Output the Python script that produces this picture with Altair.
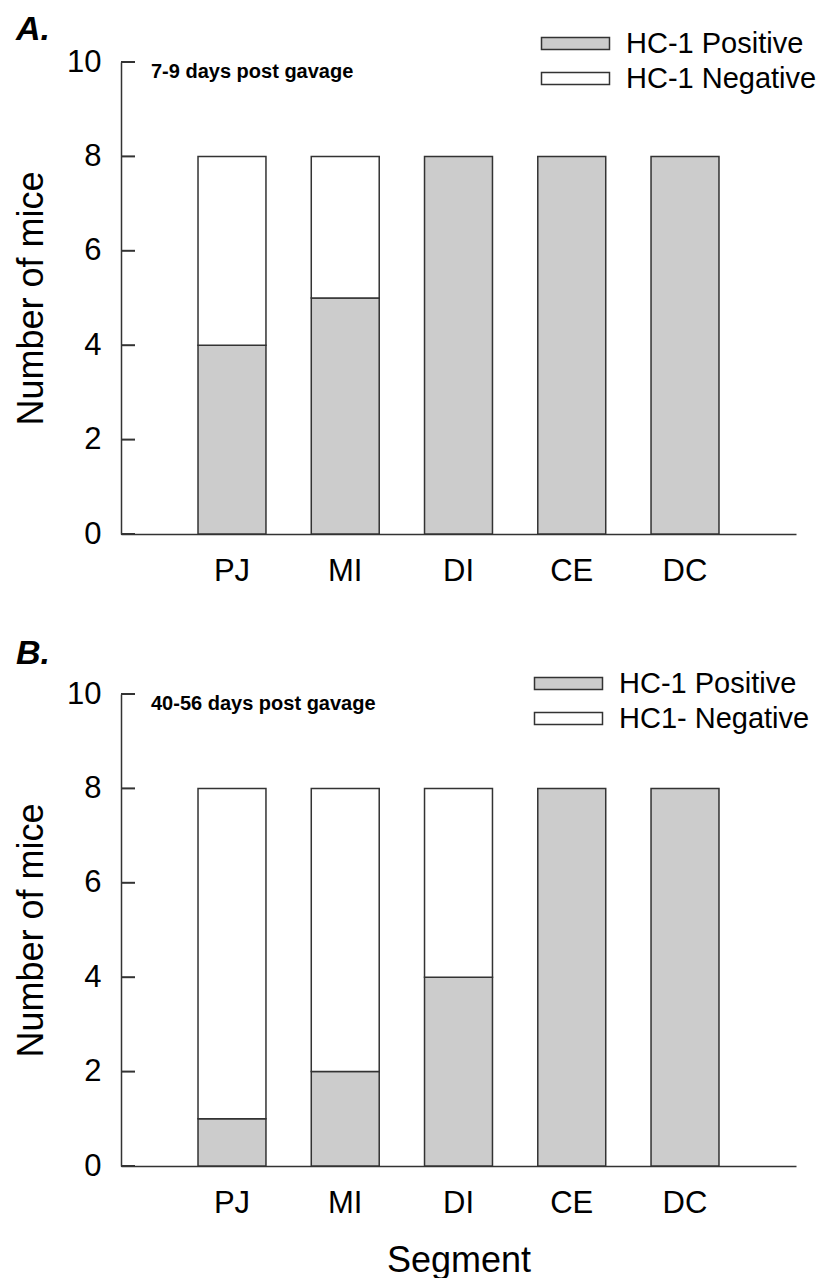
import altair as alt
import pandas as pd

segments = ["PJ", "MI", "DI", "CE", "DC"]
pos_a = [4, 5, 8, 8, 8]
neg_a = [4, 3, 0, 0, 0]
pos_b = [1, 2, 4, 8, 8]
neg_b = [7, 6, 4, 0, 0]
labels_a = ["HC-1 Positive", "HC-1 Negative"]
labels_b = ["HC-1 Positive", "HC1- Negative"]
fills = ["#cccccc", "#ffffff"]
y_ticks = [0, 2, 4, 6, 8, 10]
panel_tags = ["A.", "B."]
subtitles = ["7-9 days post gavage", "40-56 days post gavage"]
y_title = "Number of mice"
x_title = "Segment"

FONT = "Liberation Sans"
LINE = "#333333"
SYMBOL = "M-1,-1L10.333,-1L10.333,1L-1,1Z"
W, H = 675, 472


def panel(pos, neg, labels, tag, subtitle, show_x_title, lx, ly, tag_y):
    rows = []
    for s, p, n in zip(segments, pos, neg):
        if p:
            rows.append({"segment": s, "count": p, "status": labels[0], "rank": 0})
        if n:
            rows.append({"segment": s, "count": n, "status": labels[1], "rank": 1})
    df = pd.DataFrame(rows)
    yscale = alt.Scale(domain=[0, 10], nice=False)
    yaxis = alt.Axis(values=y_ticks, ticks=False, grid=False,
                     domainColor=LINE, domainWidth=1.5,
                     labelFont=FONT, labelFontSize=31, labelColor="black",
                     labelPadding=20, titleFont=FONT, titleFontSize=36,
                     titleFontWeight="normal", titleColor="black", titlePadding=16)
    xaxis = dict(ticks=False, domainColor=LINE, domainWidth=1.5, labelAngle=0,
                 labelFont=FONT, labelFontSize=31, labelColor="black", labelPadding=22,
                 titleFont=FONT, titleFontSize=36, titleFontWeight="normal",
                 titleColor="black", titlePadding=25)
    bars = alt.Chart(df).mark_bar(stroke=LINE, strokeWidth=1.5, opacity=1).encode(
        x=alt.X("segment:N", sort=segments,
                scale=alt.Scale(domain=segments, paddingInner=0.4, paddingOuter=0.68),
                title=x_title if show_x_title else None,
                axis=alt.Axis(**xaxis)),
        y=alt.Y("count:Q", stack="zero", scale=yscale, title=y_title, axis=yaxis),
        color=alt.Color("status:N",
                        scale=alt.Scale(domain=labels, range=fills),
                        legend=alt.Legend(title=None, orient="none", legendX=lx, legendY=ly,
                                          symbolType=SYMBOL, symbolSize=144,
                                          symbolStrokeColor=LINE, symbolStrokeWidth=1.5,
                                          symbolOpacity=1, labelFont=FONT, labelFontSize=29,
                                          labelColor="black", labelOffset=64,
                                          labelLimit=500, rowPadding=5, padding=0)),
        order=alt.Order("rank:Q"),
    )
    # inward-pointing y ticks
    ticks = alt.Chart(pd.DataFrame({"v": y_ticks})).mark_rule(
        color=LINE, strokeWidth=2).encode(
        y=alt.Y("v:Q", scale=yscale, title=y_title, axis=yaxis),
        x=alt.value(0), x2=alt.value(14))
    sub = alt.Chart(pd.DataFrame({"t": [subtitle]})).mark_text(
        align="left", baseline="alphabetic", font=FONT, fontSize=20,
        fontWeight="bold", color="black").encode(
        x=alt.value(30), y=alt.value(16), text="t:N")
    lab = alt.Chart(pd.DataFrame({"t": [tag]})).mark_text(
        align="left", baseline="alphabetic", font=FONT, fontSize=34,
        fontWeight="bold", fontStyle="italic", color="black").encode(
        x=alt.value(-105), y=alt.value(tag_y), text="t:N")
    return alt.layer(bars, ticks, sub, lab).properties(width=W, height=H)


a = panel(pos_a, neg_a, labels_a, panel_tags[0], subtitles[0], False, 412, -33, -22)
b = panel(pos_b, neg_b, labels_b, panel_tags[1], subtitles[1], True, 405, -25, -30)

chart = alt.vconcat(a, b, spacing=160, bounds="flush").resolve_scale(
    x="independent", y="independent", color="independent"
).resolve_legend(color="independent").properties(
    padding={"left": 5, "top": 5, "right": 0, "bottom": 0},
    background="white",
).configure_view(strokeWidth=0, stroke="transparent")

chart.save("out.html", embed_options={"renderer": "svg", "actions": False})
